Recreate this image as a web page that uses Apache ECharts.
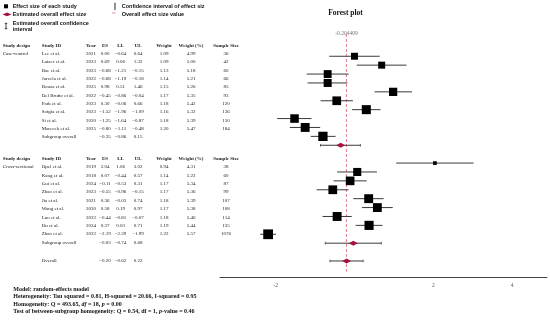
<!DOCTYPE html>
<html><head><meta charset="utf-8">
<script src="https://cdn.jsdelivr.net/npm/echarts@6/dist/echarts.min.js"></script>
<style>html,body{margin:0;padding:0;background:#fff}#c{width:550px;height:320px}</style>
</head><body><div id="c"></div>
<script>
// ---------- data ----------
const caseIds = ['Lee et al.','Latzer et al.','Bae et al.','Jarvela et al.','Bouza et al.','Del Brutto et al.','Park et al.','Sotgia et al.','Si et al.','Marecek et al.'];
const caseYears = [2021,2023,2023,2022,2025,2022,2023,2023,2020,2025];
const caseES = [0.00,0.69,-0.68,-0.68,0.98,-0.45,0.30,-1.52,-1.25,-0.80];
const caseLL = [-0.64,0.06,-1.21,-1.19,0.51,-0.86,-0.06,-1.96,-1.64,-1.11];
const caseUL = [0.64,1.32,-0.15,-0.18,1.46,-0.04,0.66,-1.09,-0.87,-0.48];
const caseW = [1.09,1.09,1.13,1.14,1.15,1.17,1.18,1.16,1.18,1.20];
const caseWPct = [4.99,5.00,5.18,5.21,5.26,5.35,5.42,5.32,5.39,5.47];
const caseN = [36,42,60,66,85,93,120,136,150,184];
const caseSub = [-0.35,-0.86,0.15];

const crossIds = ['Opel et al.','Kang et al.','Gui et al.','Zhao et al.','Jia et al.','Wang et al.','Luo et al.','Du et al.','Zhao et al.'];
const crossYears = [2019,2018,2024,2023,2021,2020,2022,2024,2022];
const crossES = [2.04,0.07,-0.11,-0.55,0.36,0.58,-0.44,0.37,-2.19];
const crossLL = [1.06,-0.44,-0.53,-0.96,-0.03,0.19,-0.81,0.03,-2.39];
const crossUL = [3.02,0.57,0.31,-0.15,0.74,0.97,-0.07,0.71,-1.99];
const crossW = [0.94,1.14,1.17,1.17,1.18,1.17,1.18,1.19,1.22];
const crossWPct = [4.31,5.22,5.34,5.36,5.39,5.38,5.40,5.44,5.57];
const crossN = [38,60,87,99,107,108,114,135,1076];
const crossSub = [-0.03,-0.74,0.68];

const overall = [-0.20,-0.62,0.22];
const overallExact = -0.204409;

const designs = ['Case-control','Cross-sectional'];
const headers = ['Study design','Study ID','Year','ES','LL','UL','Weight','Weight (%)','Sample Size'];
const subLabel = 'Subgroup overall';
const overallLabel = 'Overall';
const titleText = 'Forest plot';
const legendLabels = ['Effect size of each study','Estimated overall effect size','Estimated overall confidence\ninterval','Confidence interval of effect siz','Overall effect size value'];
const statLines = [
  'Model: random-effects model',
  'Heterogeneity: Tau squared = 0.81, H-squared = 20.66, I-squared = 0.95',
  'Homogeneity: Q = 493.65, {i|df} = 18, {i|p} = 0.00',
  'Test of between-subgroup homogeneity: Q = 0.54, df = 1, {i|p}-value = 0.46'
];

// ---------- build ----------
const SERIF = '"Liberation Serif","DejaVu Serif",serif';
const SANS = '"Liberation Sans",Arial,sans-serif';
const CRIMSON = '#a3143f';
const fmt = v => v.toFixed(2).replace('-', '\u2212');

const caseRow0 = 0;
const caseSubRow = caseIds.length;            // 10
const crossRow0 = caseSubRow + 2;             // 12
const crossSubRow = crossRow0 + crossIds.length; // 21
const overallRow = crossSubRow + 2;           // 23

const ciData = [];
const squareData = [];
caseES.forEach((e,i)=>{ ciData.push([caseLL[i],caseUL[i],caseRow0+i,0]); squareData.push([e,caseRow0+i,caseWPct[i]]); });
crossES.forEach((e,i)=>{ ciData.push([crossLL[i],crossUL[i],crossRow0+i,0]); squareData.push([e,crossRow0+i,crossWPct[i]]); });
const summaries = [[caseSub,caseSubRow],[crossSub,crossSubRow],[overall,overallRow]];
const diamondData = [];
summaries.forEach(([s,r])=>{ ciData.push([s[1],s[2],r,1]); diamondData.push([s[0],r]); });

// ---------- table text ----------
const colX = [2.7, 41.7, 91, 105, 120.5, 138, 164, 191, 226];
const colAlign = ['left','left','center','center','center','center','center','center','center'];
const graphics = [];
function txt(x,y,text,font,align,fill,extra){
  const st = Object.assign({text:text, font:font, fill:fill||'#222', textAlign:align||'left', align:align||'left',
     textVerticalAlign:'middle', verticalAlign:'middle'}, extra||{});
  graphics.push({type:'text', x:x, y:y, silent:true, style:st});
}
const TF = '5px ' + SERIF, TFB = 'bold 5px ' + SERIF;
function headerRow(y){ headers.forEach((h,k)=>txt(colX[k],y,h,TFB,colAlign[k])); }
function studyRow(y, design, id, yr, es, ll, ul, w, wp, n){
  const cells = [design, id, String(yr), fmt(es), fmt(ll), fmt(ul), w.toFixed(2), wp.toFixed(2), String(n)];
  cells.forEach((c,k)=>{ if(c!=='') txt(colX[k],y,c,TF,colAlign[k]); });
}
function sumRow(y, label, s){
  txt(colX[1],y,label,TF,'left');
  txt(colX[3],y,fmt(s[0]),TF,'center');
  txt(colX[4],y,fmt(s[1]),TF,'center');
  txt(colX[5],y,fmt(s[2]),TF,'center');
}
headerRow(45.3);
caseIds.forEach((id,i)=>studyRow(53.7+i*8.33, i===0?designs[0]:'', id, caseYears[i], caseES[i], caseLL[i], caseUL[i], caseW[i], caseWPct[i], caseN[i]));
sumRow(53.7+caseIds.length*8.33, subLabel, caseSub);
headerRow(158.3);
crossIds.forEach((id,i)=>studyRow(167+i*8.37, i===0?designs[1]:'', id, crossYears[i], crossES[i], crossLL[i], crossUL[i], crossW[i], crossWPct[i], crossN[i]));
sumRow(167+crossIds.length*8.37, subLabel, crossSub);
sumRow(260.3, overallLabel, overall);

// title
txt(345.5, 13.3, titleText, 'bold 7.5px ' + SERIF, 'center', '#111');

// legend
const LF = 'bold 5.5px ' + SANS;
graphics.push({type:'rect', silent:true, shape:{x:4,y:4.3,width:4,height:4}, style:{fill:'#000'}});
txt(12.7, 6.5, legendLabels[0], LF, 'left', '#111');
graphics.push({type:'polygon', silent:true, shape:{points:[[2.5,14.4],[7,12.6],[11.5,14.4],[7,16.2]]}, style:{fill:CRIMSON}});
txt(12.7, 14.6, legendLabels[1], LF, 'left', '#111');
graphics.push({type:'line', silent:true, shape:{x1:6,y1:23.3,x2:6,y2:28.7}, style:{stroke:'#111',lineWidth:0.8}});
graphics.push({type:'line', silent:true, shape:{x1:4.7,y1:23.3,x2:7.3,y2:23.3}, style:{stroke:'#111',lineWidth:0.8}});
graphics.push({type:'line', silent:true, shape:{x1:4.7,y1:28.7,x2:7.3,y2:28.7}, style:{stroke:'#111',lineWidth:0.8}});
txt(12.7, 26.8, legendLabels[2], LF, 'left', '#111', {lineHeight:5.8});
graphics.push({type:'line', silent:true, shape:{x1:115,y1:2.7,x2:115,y2:10}, style:{stroke:'#111',lineWidth:0.9}});
txt(121.7, 6.5, legendLabels[3], LF, 'left', '#111');
graphics.push({type:'line', silent:true, shape:{x1:112,y1:13,x2:115.5,y2:13}, style:{stroke:'#e07a86',lineWidth:0.8}});
txt(121.7, 14.6, legendLabels[4], LF, 'left', '#111');

// stats text
statLines.forEach((s,i)=>txt(13.3, 289.3+i*7.35, s, 'bold 6px ' + SERIF, 'left', '#111',
  {rich:{i:{font:'italic bold 6px ' + SERIF, fill:'#111'}}}));

// ---------- chart ----------
const chart = echarts.init(document.getElementById('c'), null, {renderer:'canvas'});
chart.setOption({
  animation:false,
  backgroundColor:'#fff',
  grid:{left:220, right:0, top:34, bottom:43, containLabel:false},
  xAxis:{type:'value', min:-3.41, max:4.882,
    axisLine:{show:true, onZero:false, lineStyle:{color:'#444', width:1}},
    axisTick:{show:false}, splitLine:{show:false},
    axisLabel:{margin:6, fontFamily:SERIF, fontSize:5.5, color:'#555',
      formatter:v => (v===0 || Math.abs(v%2)>1e-9) ? '' : String(v)}},
  yAxis:{type:'value', inverse:true, min:-2.5, max:24.8, show:false, axisLine:{onZero:false}},
  series:[
    {type:'line', silent:true, data:[[overallExact,-2.5],[overallExact,24.2]], symbol:'none', z:1,
      lineStyle:{type:[3,2], color:'#dd5c6c', width:0.8}},
    {type:'custom', silent:true, z:2, data:ciData, encode:{x:[0,1], y:2},
      renderItem:(params, api)=>{
        const ll=api.value(0), ul=api.value(1), row=api.value(2), cap=api.value(3);
        const a=api.coord([ll,row]), b=api.coord([ul,row]);
        const ch=[{type:'line', shape:{x1:a[0],y1:a[1],x2:b[0],y2:b[1]}, style:{stroke:'#3a3a3a', lineWidth:1}}];
        if(cap){
          ch.push({type:'line', shape:{x1:a[0],y1:a[1]-1.3,x2:a[0],y2:a[1]+1.3}, style:{stroke:'#3a3a3a', lineWidth:0.8}});
          ch.push({type:'line', shape:{x1:b[0],y1:b[1]-1.3,x2:b[0],y2:b[1]+1.3}, style:{stroke:'#3a3a3a', lineWidth:0.8}});
        }
        return {type:'group', children:ch};
      }},
    {type:'scatter', silent:true, z:3, data:squareData, symbol:'rect',
      symbolSize:v => 3.7 + (v[2]-4.31)*4.8, itemStyle:{color:'#000', opacity:1}},
    {type:'scatter', silent:true, z:4, data:diamondData, symbol:'diamond', symbolSize:[9,5],
      itemStyle:{color:CRIMSON, opacity:1}},
    {type:'scatter', silent:true, z:5, data:[[overallExact,-2.5]], symbolSize:0, itemStyle:{color:'transparent'},
      label:{show:true, position:'inside', formatter:String(overallExact), fontFamily:SERIF, fontSize:5.5, color:'#555'}}
  ],
  graphic:{elements:graphics}
});
</script></body></html>
